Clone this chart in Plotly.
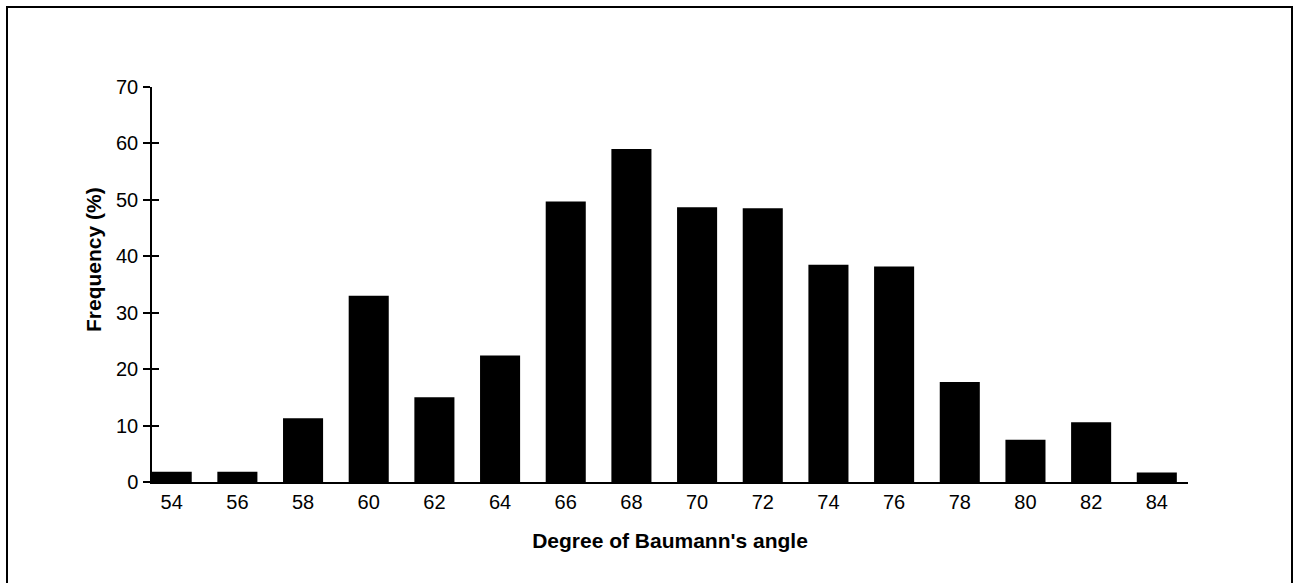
import plotly.graph_objects as go

angles = [54, 56, 58, 60, 62, 64, 66, 68, 70, 72, 74, 76, 78, 80, 82, 84]
frequency = [1.8, 1.8, 11.3, 33.0, 15.0, 22.4, 49.7, 59.0, 48.7, 48.5, 38.5, 38.2, 17.7, 7.5, 10.6, 1.7]
y_ticks = [0, 10, 20, 30, 40, 50, 60, 70]
x_title = "Degree of Baumann's angle"
y_title = "Frequency (%)"

FONT = "Liberation Sans, Arial, Helvetica, sans-serif"

fig = go.Figure()
fig.add_trace(go.Bar(
    x=angles, y=frequency,
    width=1.22,
    marker=dict(color="black", line=dict(width=0)),
    showlegend=False,
))
# invisible trace to give the secondary (inside-tick) y axis data
fig.add_trace(go.Scatter(x=[angles[0]], y=[0], yaxis="y2", mode="markers",
                         marker=dict(opacity=0), showlegend=False, hoverinfo="skip"))

L, R, T, B = 152, 106, 87, 101
W, H = 1294, 583
PW, PH = W - L - R, H - T - B

fig.update_layout(
    width=W, height=H,
    margin=dict(l=L, r=R, t=T, b=B),
    paper_bgcolor="white", plot_bgcolor="white",
    font=dict(family=FONT, size=20, color="black"),
    xaxis=dict(
        range=[53.4, 84.95],
        tickmode="array", tickvals=angles, ticktext=[str(a) for a in angles],
        ticks="", showgrid=False, zeroline=False,
        showline=True, linecolor="black", linewidth=1.5,
        tickfont=dict(size=20),
        ticklabelstandoff=1,
        title=dict(text="<b>" + x_title + "</b>", font=dict(size=21), standoff=22),
    ),
    yaxis=dict(
        range=[0, 70],
        tickmode="array", tickvals=y_ticks,
        ticks="outside", ticklen=7, tickwidth=1.5, tickcolor="black",
        showgrid=False, zeroline=False,
        showline=True, linecolor="black", linewidth=1.5,
        tickfont=dict(size=20),
        ticklabelstandoff=1,
    ),
    yaxis2=dict(
        range=[0, 70], overlaying="y", side="left", anchor="x",
        tickmode="array", tickvals=y_ticks,
        ticks="inside", ticklen=7, tickwidth=1.5, tickcolor="black",
        showticklabels=False, showgrid=False, zeroline=False, showline=False,
    ),
    annotations=[dict(
        text="<b>" + y_title + "</b>", textangle=-90,
        xref="paper", yref="paper",
        x=(93 - L) / PW, y=(H - B - 260) / PH,
        xanchor="center", yanchor="middle", showarrow=False,
        font=dict(size=21),
    )],
    shapes=[dict(
        type="rect", xref="paper", yref="paper",
        x0=(7 - L) / PW, x1=(1292 - L) / PW,
        y0=-0.3, y1=(H - B - 7) / PH,
        line=dict(color="black", width=2), fillcolor="rgba(0,0,0,0)", layer="below",
    )],
)

fig.write_html(
    "out.html",
    config={"displayModeBar": False},
    post_script="document.body.style.margin='0';document.body.style.overflow='hidden';",
)
